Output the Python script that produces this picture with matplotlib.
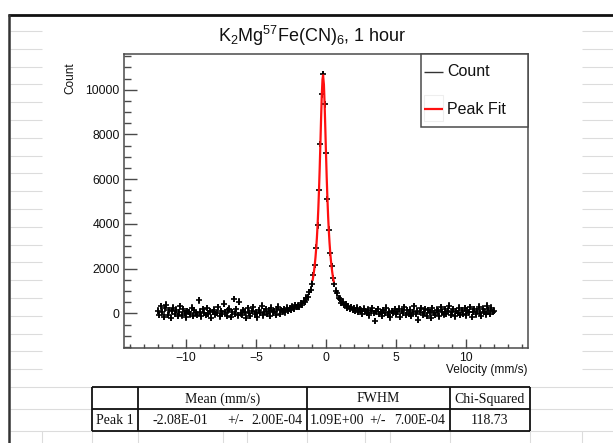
import numpy as np
import matplotlib
matplotlib.use("Agg")
import matplotlib.pyplot as plt
from matplotlib.lines import Line2D
from matplotlib.patches import Rectangle
from matplotlib.ticker import MultipleLocator

plt.rcParams["font.family"] = ["Liberation Sans", "DejaVu Sans"]
plt.rcParams["mathtext.fontset"] = "custom"
plt.rcParams["mathtext.rm"] = "Liberation Sans"
plt.rcParams["mathtext.it"] = "Liberation Sans:italic"

# ---------------- data ----------------
# velocity channels, -12 .. 12 mm/s in 0.1 mm/s steps
velocity = np.linspace(-12.0, 12.0, 241)
counts = [
    120, -80, 310, 45, -150, 220, 380, -60, 140, -210,
    90, 260, -30, 170, -120, 40, 330, -90, 200, 10,
    -170, 110, 60, -40, 250, -110, 150, 20, -60, 580,
    70, -140, 190, 30, -70, 240, -20, 100, -190, 60,
    160, -50, 20, 280, -130, 90, -10, 430, 40, -100,
    130, 210, -160, 50, 640, -20, 180, -90, 520, 0,
    -60, 150, 80, -200, 230, 30, -120, 110, 270, -40,
    60, -180, 140, 20, 340, -90, 70, 190, -30, 120,
    -110, 250, 40, 100, -60, 180, 300, -20, 150, 90,
    180, 40, 260, 110, 230, 150, 300, 210, 360, 280,
    340, 280, 450, 390, 560, 510, 700, 720, 950, 1060,
    1330, 1720, 2160, 2930, 3940, 5530, 7580, 9800, 10700, 9350,
    7180, 5120, 3740, 2710, 2100, 1580, 1310, 1010, 900, 690,
    650, 480, 520, 370, 410, 260, 330, 190, 290, 150,
    230, 100, 250, 60, 180, 120, -20, 210, 90, 30,
    160, -90, 110, 220, 20, -340, 90, 180, -30, 60,
    -120, 140, 30, 250, -60, 80, -170, 110, 20, 190,
    -40, 60, 210, -150, 100, 30, 280, -80, 130, -20,
    170, -110, 50, 320, -30, 120, -290, 80, 240, -60,
    30, 190, -100, 140, 60, -200, 230, 10, -70, 160,
    90, -130, 270, 40, -50, 180, -10, 120, 350, -80,
    60, 200, -140, 100, 20, 260, -60, 150, -10, 230,
    -90, 120, 40, 290, -160, 70, 180, -40, 110, 300,
    10, -120, 210, 80, -50, 340, 140, -20, 250, 60,
    120,
]
count_err = 150

fit_velocity = [
    -0.95, -0.90, -0.85, -0.80, -0.75, -0.70, -0.65, -0.60, -0.55, -0.50,
    -0.45, -0.40, -0.35, -0.30, -0.25, -0.21, -0.15, -0.10, -0.05, 0.00,
    0.05, 0.10, 0.15, 0.20, 0.25, 0.30, 0.35, 0.40, 0.45, 0.50, 0.55,
]
fit_counts = [
    1503, 1693, 1919, 2188, 2512, 2903, 3380, 3959, 4663, 5507,
    6494, 7602, 8744, 9771, 10464, 10650, 10240, 9388, 8292, 7148,
    6082, 5150, 4365, 3713, 3178, 2738, 2375, 2074, 1824, 1613, 1436,
]

x_ticks = [-10, -5, 0, 5, 10]
y_ticks = [0, 2000, 4000, 6000, 8000, 10000]

title = r"K$_2$Mg$^{57}$Fe(CN)$_6$, 1 hour"
legend_labels = ["Count", "Peak Fit"]

table_header = ["", "Mean (mm/s)", "FWHM", "Chi-Squared"]
table_row = ["Peak 1", "-2.08E-01", "+/-", "2.00E-04",
             "1.09E+00", "+/-", "7.00E-04", "118.73"]

# ---------------- figure ----------------
W, H = 613, 443
fig = plt.figure(figsize=(W / 100, H / 100), dpi=100)
fig.patch.set_facecolor("white")


def fx(px):
    return px / W


def fy(py):
    return 1 - py / H


def hline(x0, x1, y, color, lw, z=1):
    fig.add_artist(Line2D([fx(x0), fx(x1)], [fy(y), fy(y)],
                          transform=fig.transFigure, color=color, lw=lw,
                          zorder=z, solid_capstyle="butt"))


def vline(x, y0, y1, color, lw, z=1):
    fig.add_artist(Line2D([fx(x), fx(x)], [fy(y0), fy(y1)],
                          transform=fig.transFigure, color=color, lw=lw,
                          zorder=z, solid_capstyle="butt"))


# sheet grid around the canvas
grid_c = "#dcdcdc"
row_ys = [31 + 17.8 * k for k in range(20)]
for y in row_ys:
    hline(10, 42, y, grid_c, 0.8)
    hline(582, 613, y, grid_c, 0.8)
for y in (387, 409, 431):
    hline(10, 613, y, grid_c, 0.8)
for x in (42, 92, 138, 223, 247, 307, 365, 390, 450, 530, 582):
    vline(x, 431, 443, grid_c, 0.8)

# sheet border
hline(8, 613, 14.5, "#111111", 2.0, z=3)
vline(9, 14, 443, "#333333", 1.8, z=3)

# ---------------- plot ----------------
ax = fig.add_axes([fx(124), fy(348), (528 - 124) / W, (348 - 54) / H])
ax.set_xlim(-14.43, 14.43)
ax.set_ylim(-1550, 11600)

ax.errorbar(velocity, counts, yerr=count_err, fmt="+", ms=4.5, mew=1.2,
            color="black", ecolor="black", elinewidth=1.1, capsize=0,
            zorder=2)
ax.plot(fit_velocity, fit_counts, color="#ff1010", lw=1.6, zorder=3)

frame_c = "#4a4a4a"
for s in ax.spines.values():
    s.set_color(frame_c)
    s.set_linewidth(1.1)

ax.set_xticks(x_ticks)
ax.set_yticks(y_ticks)
ax.xaxis.set_minor_locator(MultipleLocator(1))
ax.yaxis.set_minor_locator(MultipleLocator(500))
ax.tick_params(axis="both", which="both", direction="in", color=frame_c,
               top=False, right=False, labelsize=8.8, labelcolor="#111111")
ax.tick_params(axis="y", which="major", length=9.6, width=1.0, pad=3)
ax.tick_params(axis="y", which="minor", length=5.2, width=1.0)
ax.tick_params(axis="x", which="major", length=6.5, width=1.0, pad=3)
ax.tick_params(axis="x", which="minor", length=3.0, width=1.0)

# titles
fig.text(fx(312), fy(36), title, ha="center", va="center", fontsize=13,
         color="#111111")
fig.text(fx(70), fy(78), "Count", rotation=90, ha="center", va="center",
         fontsize=8.5, color="#111111")
fig.text(fx(528), fy(370), "Velocity (mm/s)", ha="right", va="center",
         fontsize=8.6, color="#111111")

# legend box
fig.add_artist(Rectangle((fx(421), fy(127)), (528 - 421) / W, (127 - 54) / H,
                         transform=fig.transFigure, facecolor="white",
                         edgecolor=frame_c, lw=1.1, zorder=5))
fig.add_artist(Rectangle((fx(424), fy(121)), (443 - 424) / W, (121 - 95) / H,
                         transform=fig.transFigure, facecolor="none",
                         edgecolor="#eeeeee", lw=0.8, zorder=6))
hline(424, 443, 72, "#333333", 1.0, z=6)
hline(424, 443, 109, "#ff1010", 1.6, z=6)
fig.text(fx(447), fy(72), legend_labels[0], ha="left", va="center",
         fontsize=11.5, color="#111111", zorder=6)
fig.text(fx(447), fy(109), legend_labels[1], ha="left", va="center",
         fontsize=11.5, color="#111111", zorder=6)

# ---------------- results table ----------------
tcol = "#111111"
for y in (387, 409, 431):
    hline(92, 530, y, tcol, 1.3, z=4)
for x in (92, 138, 307, 450, 530):
    vline(x, 387, 431, tcol, 1.3, z=4)

serif = ["Liberation Serif", "DejaVu Serif"]
head_x = [115, 222.5, 378.5, 490]
for x, s in zip(head_x, table_header):
    fig.text(fx(x), fy(399), s, ha="center", va="center", fontsize=10,
             family=serif, color="#111111")
row_x = [115, 180.5, 235, 277, 337, 378, 419.5, 489]
for x, s in zip(row_x, table_row):
    fig.text(fx(x), fy(420), s, ha="center", va="center", fontsize=10,
             family=serif, color="#111111")

fig.savefig("out.png", dpi=100)
